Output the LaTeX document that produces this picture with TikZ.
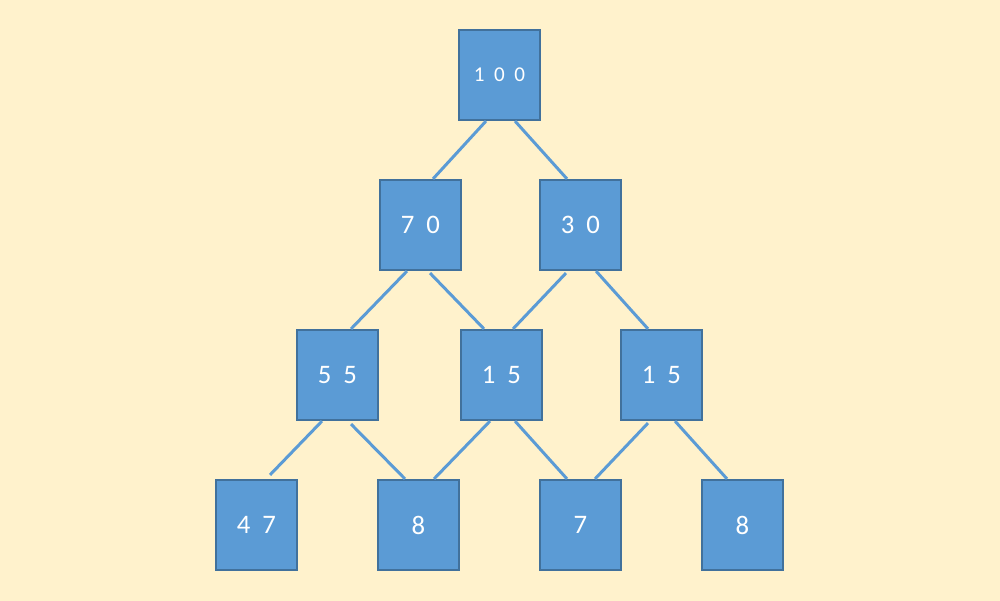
\documentclass[tikz,border=0pt]{standalone}
\usepackage{fontspec}
\setmainfont{Carlito}
\usetikzlibrary{calc}
\definecolor{bg}{HTML}{FFF2CC}
\definecolor{boxfill}{HTML}{5B9BD5}
\definecolor{boxline}{HTML}{41719C}
\definecolor{linkc}{HTML}{5B9BD5}
\newcommand{\dgap}{\hspace{0.45em}}
\tikzset{
  box/.style={rectangle, draw=boxline, line width=0.6pt, fill=boxfill, minimum width=0.81cm, minimum height=0.9cm, inner sep=0pt, text=white, font=\fontsize{7.6}{8}\selectfont},
  topbox/.style={box, font=\fontsize{6}{7}\selectfont},
  link/.style={draw=linkc, line width=0.85pt}
}
\begin{document}
\begin{tikzpicture}[x=0.01cm,y=-0.01cm]
\fill[bg] (0,0) rectangle (1000,601);
\useasboundingbox (0,0) rectangle (1000,601);
% nodes
\node[topbox] (n100) at (499.5,75) {1\dgap0\dgap0};
\node[box] (n70) at (420.5,225) {7\dgap0};
\node[box] (n30) at (580.5,225) {3\dgap0};
\node[box] (n55) at (337.5,375) {5\dgap5};
\node[box] (n15a) at (501.5,375) {1\dgap5};
\node[box] (n15b) at (661.5,375) {1\dgap5};
\node[box] (n47) at (256.5,525) {4\dgap7};
\node[box] (n8a) at (418.5,525) {8};
\node[box] (n7) at (580.5,525) {7};
\node[box] (n8b) at (742.5,525) {8};
% links
\draw[link] ($(n100.south)+(-13.5,0)$) -- ($(n70.north)+(12.5,0)$);
\draw[link] ($(n100.south)+(15.5,0)$) -- ($(n30.north)+(-13.5,0)$);
\draw[link] ($(n70.south)+(-13.5,0)$) -- ($(n55.north)+(13.5,0)$);
\draw[link] ($(n70.south)+(9.5,2)$) -- ($(n15a.north)+(-17.5,0)$);
\draw[link] ($(n30.south)+(-14.5,2)$) -- ($(n15a.north)+(11.5,0)$);
\draw[link] ($(n30.south)+(15.5,0)$) -- ($(n15b.north)+(-13.5,0)$);
\draw[link] ($(n55.south)+(-15.5,0)$) -- ($(n47.north)+(13.5,-4)$);
\draw[link] ($(n55.south)+(13.5,3)$) -- ($(n8a.north)+(-13.5,0)$);
\draw[link] ($(n15a.south)+(-11.5,0)$) -- ($(n8a.north)+(15.5,0)$);
\draw[link] ($(n15a.south)+(13.5,0)$) -- ($(n7.north)+(-13.5,0)$);
\draw[link] ($(n15b.south)+(-13.5,2)$) -- ($(n7.north)+(14.5,0)$);
\draw[link] ($(n15b.south)+(13.5,0)$) -- ($(n8b.north)+(-15.5,0)$);
\end{tikzpicture}
\end{document}
